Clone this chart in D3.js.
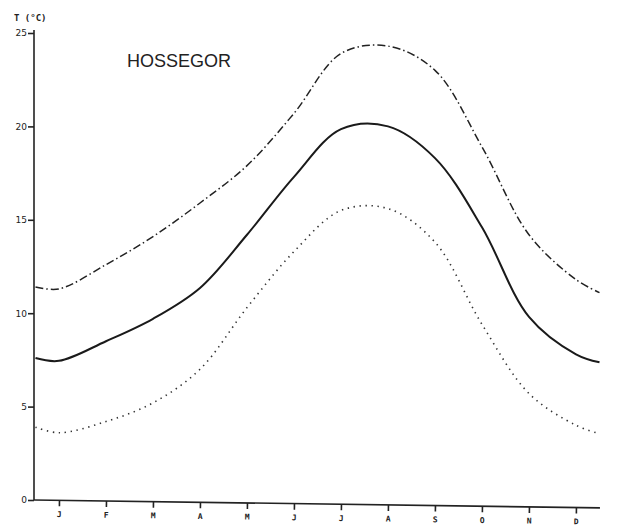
<!DOCTYPE html>
<html>
<head>
<meta charset="utf-8">
<script src="https://cdn.jsdelivr.net/npm/d3@7"></script>
<style>
  body { margin: 0; background: #fff; }
  svg { display: block; }
</style>
</head>
<body>
<div id="chart"></div>
<script>
// Data: monthly temperatures at Hossegor
const months = ["J", "F", "M", "A", "M", "J", "J", "A", "S", "O", "N", "D"];
// month index of each sample (-0.5 = start of Jan, 11.5 = end of Dec)
const monthPos = [-0.5, 0, 1, 2, 3, 4, 5, 6, 7, 8, 9, 10, 11, 11.5];
const maxTemp  = [11.4, 11.3, 12.6, 14.1, 15.9, 17.9, 20.7, 23.9, 24.3, 23.0, 18.9, 14.2, 11.8, 11.1];
const meanTemp = [7.6, 7.45, 8.5, 9.7, 11.35, 14.2, 17.3, 19.85, 20.0, 18.3, 14.6, 9.8, 7.8, 7.37];
const minTemp  = [3.9, 3.6, 4.2, 5.2, 7.0, 10.3, 13.3, 15.5, 15.6, 13.8, 9.4, 5.7, 4.0, 3.55];
const yTicks = [0, 5, 10, 15, 20, 25];

const width = 618;
const height = 526;

const svg = d3.select("#chart")
  .append("svg")
  .attr("width", width)
  .attr("height", height);

// scales
const x = d3.scaleLinear().domain([0, 11]).range([59, 576]);
const y = d3.scaleLinear().domain([0, 25]).range([500, 33]);

// y axis
const yAxis = svg.append("g")
  .attr("transform", "translate(34,0)")
  .call(d3.axisLeft(y).tickValues(yTicks).tickSize(6).tickPadding(1));
yAxis.select(".domain").attr("d", "M0,30V500").attr("stroke", "#222").attr("stroke-width", 1.6);
yAxis.selectAll(".tick line").attr("stroke", "#222").attr("stroke-width", 1.6);
yAxis.selectAll(".tick text")
  .attr("font-family", "DejaVu Sans")
  .attr("font-size", 9)
  .attr("fill", "#222");

// x axis (slightly tilted like the scanned plate)
const xAxis = svg.append("g")
  .attr("transform", "translate(0,500) rotate(0.8,34,0)")
  .call(d3.axisBottom(x).tickValues(d3.range(12)).tickFormat(i => months[i]).tickSize(6).tickPadding(5));
xAxis.select(".domain").attr("d", "M34,0H600").attr("stroke", "#222").attr("stroke-width", 1.6);
xAxis.selectAll(".tick line").attr("stroke", "#222").attr("stroke-width", 1.6);
xAxis.selectAll(".tick text")
  .attr("font-family", "DejaVu Sans Mono")
  .attr("font-weight", "bold")
  .attr("font-size", 8)
  .attr("fill", "#222");

// unit label and station name
svg.append("text")
  .attr("x", 14).attr("y", 21)
  .attr("font-family", "DejaVu Sans Mono")
  .attr("font-weight", "bold")
  .attr("font-size", 9)
  .attr("fill", "#222")
  .attr("xml:space", "preserve")
  .text("T (°C)");

svg.append("text")
  .attr("x", 127).attr("y", 67)
  .attr("font-family", "Liberation Sans")
  .attr("font-size", 18)
  .attr("fill", "#222")
  .text("HOSSEGOR");

// curves
const line = d3.line()
  .x(d => x(d[0]))
  .y(d => y(d[1]))
  .curve(d3.curveCatmullRom.alpha(0.5));

const series = [
  { values: maxTemp, dash: "8,3,1.5,3", width: 1.5, color: "#222" },
  { values: meanTemp, dash: null, width: 2, color: "#1a1a1a" },
  { values: minTemp, dash: "1.4,4.6", width: 1.6, color: "#333" }
];

svg.append("g")
  .selectAll("path")
  .data(series)
  .join("path")
  .attr("fill", "none")
  .attr("stroke", d => d.color)
  .attr("stroke-width", d => d.width)
  .attr("stroke-dasharray", d => d.dash)
  .attr("d", d => line(d.values.map((v, i) => [monthPos[i], v])));
</script>
</body>
</html>
